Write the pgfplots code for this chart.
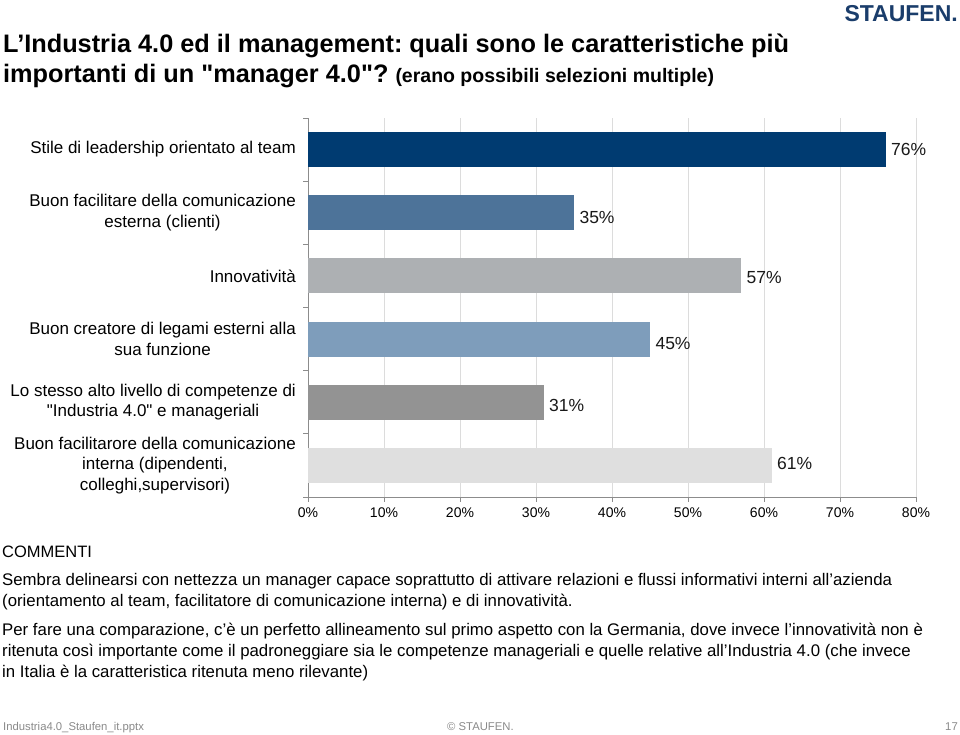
\documentclass[border=0pt]{standalone}
\usepackage{pgfplots}
\pgfplotsset{compat=1.18}
\usepackage{fontspec}
\setmainfont{Liberation Sans}
\newfontfamily\qf{Liberation Sans}
\newcommand\dq{{\qf"}}
\frenchspacing
\definecolor{c1}{HTML}{003B71}
\definecolor{c2}{HTML}{4D7399}
\definecolor{c3}{HTML}{ADB0B3}
\definecolor{c4}{HTML}{7E9DBB}
\definecolor{c5}{HTML}{939393}
\definecolor{c6}{HTML}{DFDFDF}
\definecolor{logo}{HTML}{1A3D6B}
\definecolor{axgray}{HTML}{8C8C8C}
\definecolor{gridc}{HTML}{DCDCDC}
\definecolor{foot}{HTML}{8A8A8A}
\begin{document}
\begin{tikzpicture}[x=1pt,y=1pt]
\fill[white] (0,0) rectangle (960,735);
% title
\node[anchor=base west, inner sep=0pt, font=\fontsize{25.3}{28}\selectfont\bfseries] at (3,682) {L’Industria 4.0 ed il management: quali sono le caratteristiche più};
\node[anchor=base west, inner sep=0pt] at (3,652) {\fontsize{25.3}{28}\selectfont\bfseries importanti di un \dq manager 4.0\dq? {\fontsize{19.5}{22}\selectfont (erano possibili selezioni multiple)}};
% logo
\node[anchor=base east, inner sep=0pt, font=\fontsize{23}{23}\selectfont\bfseries, text=logo] at (958,713) {STAUFEN.};
\begin{axis}[
  at={(308pt,238pt)}, anchor=south west,
  scale only axis, width=608pt, height=379pt,
  xmin=0, xmax=80, ymin=-0.5, ymax=5.5,
  xbar, bar width=35pt, bar shift=0pt,
  axis lines=left,
  axis line style={draw=axgray, line width=0.8pt, -},
  tick style={draw=axgray, line width=0.8pt},
  tick align=outside, major tick length=5pt,
  xtick={0,10,...,80},
  xticklabel={\pgfmathprintnumber{\tick}\%},
  /pgf/number format/assume math mode=true,
  xticklabel style={font=\fontsize{14}{16}\selectfont, text=black, yshift=-2pt},
  xmajorgrids, grid style={draw=gridc, line width=0.7pt},
  ytick={-0.5,0.5,...,5.5},
  yticklabels={,,,,,,,},
  extra y ticks={0,1,2,3,4,5},
  extra y tick labels={
    {Buon facilitarore della comunicazione\\interna (dipendenti,\\colleghi,supervisori)},
    {Lo stesso alto livello di competenze di\\\dq Industria 4.0\dq\ e manageriali},
    {Buon creatore di legami esterni alla\\sua funzione},
    {Innovatività},
    {Buon facilitare della comunicazione\\esterna (clienti)},
    {Stile di leadership orientato al team}},
  extra y tick style={major tick length=0pt, yticklabel style={align=center, font=\fontsize{17}{20.5}\selectfont, inner sep=0pt, xshift=-12pt, text=black}},
  point meta=x,
  nodes near coords={\pgfmathprintnumber{\pgfplotspointmeta}\%},
  nodes near coords align={horizontal},
  every node near coord/.append style={font=\fontsize{17.5}{19}\selectfont, text=black!90, xshift=2pt},
  clip=false,
]
\addplot[fill=c1, draw=none] coordinates {(76,5)};
\addplot[fill=c2, draw=none, every node near coord/.append style={yshift=-5pt}] coordinates {(35,4)};
\addplot[fill=c3, draw=none, every node near coord/.append style={yshift=-2pt}] coordinates {(57,3)};
\addplot[fill=c4, draw=none, every node near coord/.append style={yshift=-4pt}] coordinates {(45,2)};
\addplot[fill=c5, draw=none, every node near coord/.append style={yshift=-3pt}] coordinates {(31,1)};
\addplot[fill=c6, draw=none, every node near coord/.append style={yshift=2pt}] coordinates {(61,0)};
\end{axis}
% comments
\node[anchor=base west, inner sep=0pt, font=\fontsize{16.5}{18}\selectfont] at (2,177) {COMMENTI};
\begin{scope}[every node/.style={anchor=base west, inner sep=0pt, font=\fontsize{16.8}{19}\selectfont}]
\node at (2,149) {Sembra delinearsi con nettezza un manager capace soprattutto di attivare relazioni e flussi informativi interni all’azienda};
\node at (2,128) {(orientamento al team, facilitatore di comunicazione interna) e di innovatività.};
\node at (2,99) {Per fare una comparazione, c’è un perfetto allineamento sul primo aspetto con la Germania, dove invece l’innovatività non è};
\node at (2,78) {ritenuta così importante come il padroneggiare sia le competenze manageriali e quelle relative all’Industria 4.0 (che invece};
\node at (2,57) {in Italia è la caratteristica ritenuta meno rilevante)};
\end{scope}
% footer
\begin{scope}[every node/.style={inner sep=0pt, font=\fontsize{11.3}{13}\selectfont, text=foot}]
\node[anchor=base west] at (3,4) {Industria4.0\_Staufen\_it.pptx};
\node[anchor=base west] at (447,4) {© STAUFEN.};
\node[anchor=base east] at (958,4) {17};
\end{scope}
\end{tikzpicture}
\end{document}
